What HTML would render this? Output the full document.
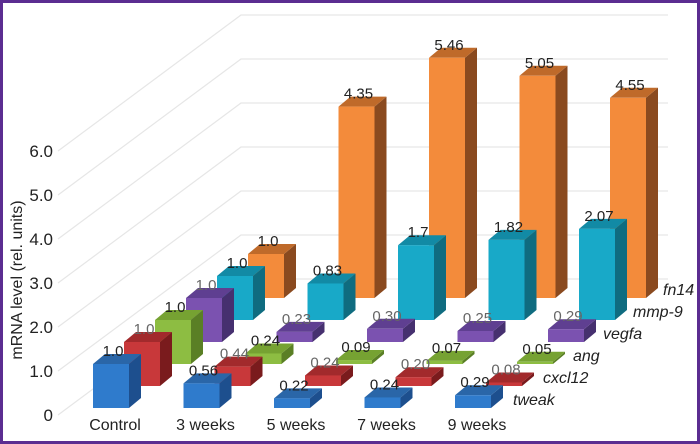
<!DOCTYPE html>
<html><head><meta charset="utf-8">
<style>
html,body{margin:0;padding:0;background:#fff;}
#wrap{position:relative;width:700px;height:444px;box-sizing:border-box;border:3px solid #5b2d91;background:#fff;overflow:hidden;}
svg{position:absolute;left:-3px;top:-3px;font-family:"Liberation Sans",sans-serif;}
</style></head>
<body>
<div id="wrap">
<svg id="chart" width="700" height="444"></svg>
</div>
<script>
const categories = ["Control","3 weeks","5 weeks","7 weeks","9 weeks"];
const seriesNames = ["tweak","cxcl12","ang","vegfa","mmp-9","fn14"];
const tweak = [1.0,0.56,0.22,0.24,0.29];
const cxcl12 = [1.0,0.44,0.24,0.20,0.08];
const ang = [1.0,0.24,0.09,0.07,0.05];
const vegfa = [1.0,0.23,0.30,0.25,0.29];
const mmp9 = [1.0,0.83,1.7,1.82,2.07];
const fn14 = [1.0,4.35,5.46,5.05,4.55];
const valueLabels = [
  ["1.0","0.56","0.22","0.24","0.29"],
  ["1.0","0.44","0.24","0.20","0.08"],
  ["1.0","0.24","0.09","0.07","0.05"],
  ["1.0","0.23","0.30","0.25","0.29"],
  ["1.0","0.83","1.7","1.82","2.07"],
  ["1.0","4.35","5.46","5.05","4.55"]
];
const yTicks = [0,1,2,3,4,5,6];
const yTickLabels = ["0","1.0","2.0","3.0","4.0","5.0","6.0"];

const series = [tweak,cxcl12,ang,vegfa,mmp9,fn14];
const colors = [
  {f:"#2f7bcc",s:"#1d4f8e",t:"#2a66a8",lab:"#222"},
  {f:"#c8383a",s:"#7a1b1d",t:"#a22a2c",lab:"#666"},
  {f:"#8dbd42",s:"#5a7f25",t:"#76a232",lab:"#222"},
  {f:"#7b52b0",s:"#46306f",t:"#5f3f91",lab:"#666"},
  {f:"#18a9c8",s:"#0f6c80",t:"#128aa5",lab:"#222"},
  {f:"#f38b3b",s:"#8a4a1f",t:"#bf6a2a",lab:"#222"}
];
const svg = document.getElementById('chart');
const NS = "http://www.w3.org/2000/svg";
const PX = 44, BW = 36, DX = 12, DY = 10;
function xPos(c,r){ return 93 + 90.5*c + 31*r; }
function yBase(r){ return 408 - 22*r; }
function yVal(v,r){ return yBase(r) - v*PX; }
function mk(tag, attrs){ const e=document.createElementNS(NS,tag); for(const k in attrs) e.setAttribute(k,attrs[k]); svg.appendChild(e); return e; }

yTicks.forEach((t,i)=>{
  const yw = 279 - t*PX;
  const yf = 415 - t*44;
  const g = mk('polyline',{points:`58,${yf} 241,${yw} 668,${yw}`,fill:'none',stroke:'#e6e6e6','stroke-width':1.2});
  
  
  const tx = mk('text',{x:53,y:yf+6,'text-anchor':'end','font-size':17,fill:'#222'});
  tx.textContent = yTickLabels[i];
  
  
});
const yt = mk('text',{x:0,y:0,'text-anchor':'middle','font-size':16,fill:'#222',transform:'translate(22,280) rotate(-90)'});
yt.textContent = "mRNA level (rel. units)";



for(let r=series.length-1;r>=0;r--){
  const col = colors[r];
  for(let c=0;c<categories.length;c++){
    const v = series[r][c];
    const x = xPos(c,r), yb = yBase(r), yt2 = yVal(v,r);
    const g = document.createElementNS(NS,'g'); svg.appendChild(g);
    
    
    const side = document.createElementNS(NS,'polygon');
    side.setAttribute('points',`${x+BW},${yt2} ${x+BW+DX},${yt2-DY} ${x+BW+DX},${yb-DY} ${x+BW},${yb}`);
    side.setAttribute('fill',col.s); g.appendChild(side);
    const top = document.createElementNS(NS,'polygon');
    top.setAttribute('points',`${x},${yt2} ${x+DX},${yt2-DY} ${x+BW+DX},${yt2-DY} ${x+BW},${yt2}`);
    top.setAttribute('fill',col.t); g.appendChild(top);
    const front = document.createElementNS(NS,'rect');
    front.setAttribute('x',x); front.setAttribute('y',yt2); front.setAttribute('width',BW); front.setAttribute('height',yb-yt2);
    front.setAttribute('fill',col.f); g.appendChild(front);
    const lb = mk('text',{x:x+BW/2+2,y:yt2-8,'text-anchor':'middle','font-size':15,fill:col.lab});
    lb.textContent = valueLabels[r][c];
    
    
  }
  const sl = mk('text',{x:xPos(4,0)+58+30*r,y:yBase(r)-3,'font-size':16,'font-style':'italic',fill:'#222'});
  sl.textContent = seriesNames[r];
  
  
}
categories.forEach((cName,c)=>{
  const t = mk('text',{x:xPos(c,0)+BW/2+4,y:430,'text-anchor':'middle','font-size':16,fill:'#222'});
  t.textContent = cName;
  
  
});
</script>
</body></html>
